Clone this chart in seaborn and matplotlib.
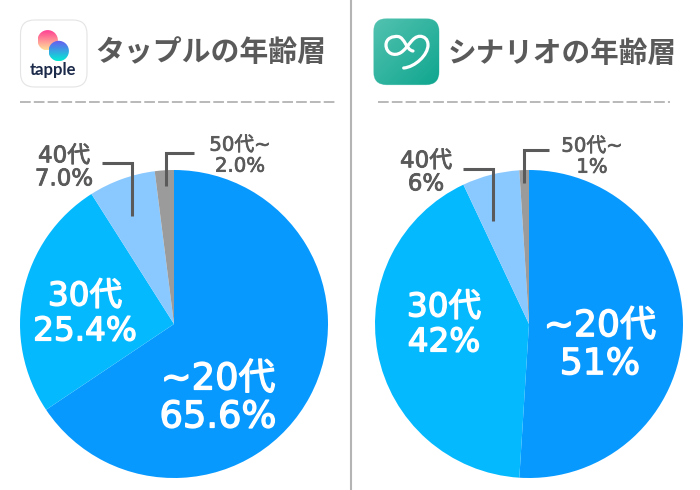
import numpy as np
import matplotlib
matplotlib.use("Agg")
import matplotlib.pyplot as plt
import matplotlib.patheffects as pe
from matplotlib.patches import FancyBboxPatch, Circle, PathPatch
from matplotlib.path import Path
import seaborn as sns

sns.set_theme(style="white")
plt.rcParams['font.family'] = ['DejaVu Sans', 'Noto Sans CJK JP']

categories = ["~20代", "30代", "40代", "50代~"]
tapple_values = [65.6, 25.4, 7.0, 2.0]
scenario_values = [51, 42, 6, 1]
tapple_labels = ["65.6%", "25.4%", "7.0%", "2.0%"]
scenario_labels = ["51%", "42%", "6%", "1%"]
titles = ["タップルの年齢層", "シナリオの年齢層"]
slice_colors = ["#0899FF", "#05B9FF", "#8AC9FF", "#9B9B9B"]
ink = "#5A5A5A"

W, H = 700, 490
fig = plt.figure(figsize=(W / 100, H / 100), dpi=100, facecolor="white")

for values, cx in ((tapple_values, 174), (scenario_values, 529)):
    r = 154
    ax = fig.add_axes([(cx - r) / W, 1 - (324 + r) / H, 2 * r / W, 2 * r / H])
    ax.pie(values, colors=slice_colors, startangle=90, counterclock=False,
           radius=1, wedgeprops=dict(linewidth=0))
    ax.set_xlim(-1, 1)
    ax.set_ylim(-1, 1)
    ax.set_aspect("equal")
    ax.axis("off")

ov = fig.add_axes([0, 0, 1, 1], facecolor="none")
ov.set_xlim(0, W)
ov.set_ylim(H, 0)
ov.axis("off")

# centre divider
ov.plot([351, 351], [0, 490], color="#B4B4B4", lw=1.5, solid_capstyle="butt")

# dashed rules
ov.plot([19.5, 335], [102, 102], color="#B9B9B9", lw=1.4, dashes=(5.5, 1.6))
ov.plot([378, 670], [102, 102], color="#B9B9B9", lw=1.4, dashes=(5.5, 1.6))

# titles
jp = ['Noto Sans CJK JP', 'DejaVu Sans']
ov.text(95, 52, titles[0], fontsize=20.8, fontweight="bold", color=ink, ha="left", va="center", family=jp)
ov.text(448, 53, titles[1], fontsize=20.6, fontweight="bold", color=ink, ha="left", va="center", family=jp)

# tapple icon
ov.add_patch(FancyBboxPatch((20.5, 20), 66.5, 67, boxstyle="round,pad=0,rounding_size=14",
                            fc="white", ec="#E4E4E4", lw=0.8))
grid = np.linspace(0, 1, 60)
gx, gy = np.meshgrid(grid, grid)
pink = np.dstack([np.full_like(gx, 1.0), np.clip(0.22 + 0.65 * gy, 0, 1), np.clip(0.58 + 0.02 * gy, 0, 1)])
im1 = ov.imshow(pink, extent=(37.5, 58, 50.5, 30), zorder=3, interpolation="bilinear")
im1.set_clip_path(Circle((47.7, 40.3), 10.2, transform=ov.transData))
blue = np.dstack([0.42 - 0.40 * gy, 0.35 + 0.57 * gy, 0.95 - 0.12 * gy])
im2 = ov.imshow(blue, extent=(48.5, 69, 61.2, 40.8), zorder=4, interpolation="bilinear")
im2.set_clip_path(Circle((58.7, 51), 10.2, transform=ov.transData))
ov.set_xlim(0, W)
ov.set_ylim(H, 0)
ov.set_aspect("auto")
ov.text(53, 70, "tapple", fontsize=12, fontweight="bold", color="#1C2A4A",
        ha="center", va="center", family="Lato", zorder=5)

# scenario icon
box = FancyBboxPatch((373.7, 18.7), 65.3, 66, boxstyle="round,pad=0,rounding_size=13",
                     fc="#2FB5A2", ec="#9ADCD1", lw=0.6)
ov.add_patch(box)
shade = np.clip(0.5 * gx + 0.5 * gy, 0, 1)
teal = np.dstack([0.32 - 0.26 * shade, 0.76 - 0.11 * shade, 0.69 - 0.13 * shade])
im3 = ov.imshow(teal, extent=(373.7, 439, 84.7, 18.7), zorder=2, interpolation="bilinear")
im3.set_clip_path(box)
ov.set_xlim(0, W)
ov.set_ylim(H, 0)
ov.set_aspect("auto")
loop = Path([(403.7, 68), (415, 67), (428, 55), (428, 45),
             (428, 39), (424, 36.3), (420, 36.3),
             (412, 36.3), (409, 47), (401, 52.5),
             (394, 57), (386, 53), (386, 45),
             (386, 38), (393, 36), (398, 36.5),
             (405, 37.5), (406, 50), (413, 51)],
            [Path.MOVETO] + [Path.CURVE4] * 18)
ov.add_patch(PathPatch(loop, fc="none", ec="white", lw=2.3, capstyle="round", zorder=3))

# leader lines
leaders = [
    ([102, 132, 132], [163, 163, 216]),
    ([194, 166, 166], [153, 153, 186]),
    ([463, 493, 493], [169, 169, 221]),
    ([549, 524, 524], [150, 150, 183]),
]
for xs, ys in leaders:
    ov.plot(xs, ys, color=ink, lw=2.2, solid_joinstyle="miter", solid_capstyle="butt", zorder=6)


def label(x, y, name, pct, size, color, linegap, stroke):
    cap = size * 100 / 72 * 0.729
    effects = [pe.withStroke(linewidth=stroke, foreground=color)]
    ov.text(x, y - linegap / 2 + cap / 2, name, fontsize=size, color=color,
            ha="center", va="baseline", zorder=7, path_effects=effects)
    ov.text(x, y + linegap / 2 + cap / 2, pct, fontsize=size, color=color,
            ha="center", va="baseline", zorder=7, path_effects=effects)


label(218, 395, categories[0], tapple_labels[0], 26.5, "white", 38, 1.0)
label(85, 311, categories[1], tapple_labels[1], 23.5, "white", 35, 1.0)
label(64, 165.5, categories[2], tapple_labels[2], 16.5, ink, 23, 0.6)
label(240, 154, categories[3], tapple_labels[3], 14.2, ink, 21, 0.5)
label(600, 342, categories[0], scenario_labels[0], 26, "white", 38, 1.0)
label(444, 322, categories[1], scenario_labels[1], 23.5, "white", 35, 1.0)
label(426, 170.5, categories[2], scenario_labels[2], 16.5, ink, 23, 0.6)
label(592, 155, categories[3], scenario_labels[3], 14.2, ink, 21, 0.5)

fig.savefig("out.png", dpi=100, facecolor="white")
